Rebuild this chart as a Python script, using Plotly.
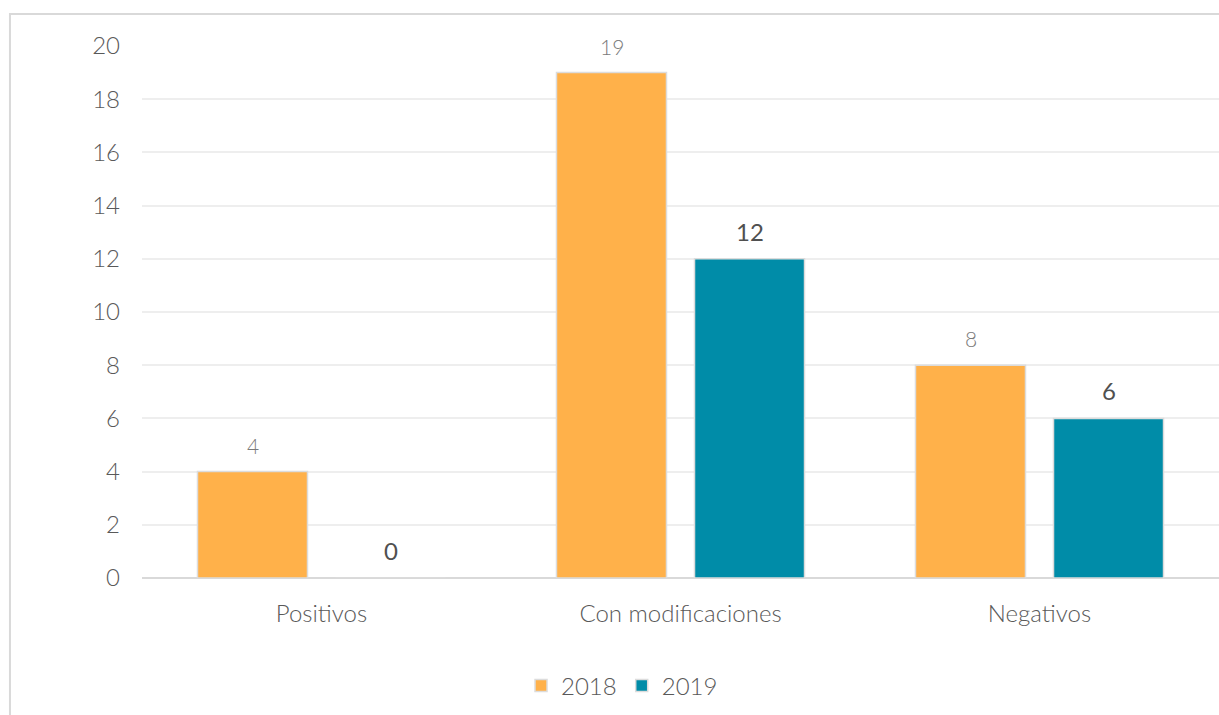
import plotly.graph_objects as go

categories = ["Positivos", "Con modificaciones", "Negativos"]
series_names = ["2018", "2019"]
values_2018 = [4, 19, 8]
values_2019 = [0, 12, 6]
tick_vals = [0, 2, 4, 6, 8, 10, 12, 14, 16, 18, 20]

c2018 = "#FFB14A"
c2019 = "#008CA8"
font_family = "Lato, 'Open Sans', sans-serif"

fig = go.Figure()
fig.add_trace(go.Bar(name=series_names[0], x=categories, y=values_2018,
                     marker=dict(color=c2018, line=dict(color="#dcdcdc", width=1.5))))
fig.add_trace(go.Bar(name=series_names[1], x=categories, y=values_2019,
                     marker=dict(color=c2019, line=dict(color="#dcdcdc", width=1.5))))

# data labels
for cat, v in zip(categories, values_2018):
    fig.add_annotation(x=cat, y=v, text=str(v), showarrow=False, xshift=-69, yshift=12,
                       yanchor="bottom",
                       font=dict(family=font_family, size=21, color="#7a7a7a", weight=300))
for cat, v in zip(categories, values_2019):
    fig.add_annotation(x=cat, y=v, text=str(v), showarrow=False, xshift=69, yshift=11,
                       yanchor="bottom",
                       font=dict(family=font_family, size=24, color="#505050", weight=400))

# outer chart border
fig.add_shape(type="rect", xref="paper", yref="paper", x0=-0.1226, x1=1.2, y0=-0.6, y1=1.0602,
              line=dict(color="#d9d9d9", width=2), fillcolor="rgba(0,0,0,0)", layer="below")

fig.update_layout(
    width=1219, height=715,
    margin=dict(l=142, r=0, t=46, b=137),
    paper_bgcolor="white", plot_bgcolor="white",
    barmode="group", bargap=0.231, bargroupgap=0.203,
    font=dict(family=font_family, color="#595959", weight=300),
    showlegend=True,
    legend=dict(orientation="h", x=0.4457, xanchor="center", y=-0.203, yanchor="middle",
                font=dict(size=24, color="#595959", weight=300), itemwidth=30, tracegroupgap=0),
    yaxis=dict(range=[0, 20], tickvals=tick_vals, showgrid=True, gridcolor="#eeeeee", gridwidth=1.5,
               zeroline=True, zerolinecolor="#d9d9d9", zerolinewidth=1.5, showline=False,
               tickfont=dict(size=24, color="#595959", weight=300), ticklabelstandoff=21),
    xaxis=dict(showline=False, tickfont=dict(size=24, color="#595959", weight=300),
               ticklabelstandoff=19),
)

fig.write_html("out.html")
